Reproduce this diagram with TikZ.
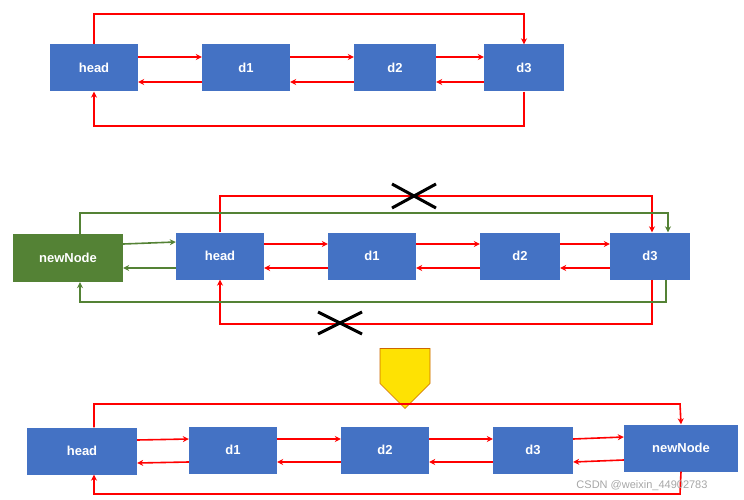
\documentclass[tikz,border=0pt]{standalone}
\usepackage{fontspec}
\setmainfont{Liberation Sans}
\usetikzlibrary{arrows.meta,shapes.arrows}
\definecolor{bx}{HTML}{4472C4}
\definecolor{gx}{HTML}{548235}
\definecolor{rx}{HTML}{FF0000}
\begin{document}
\begin{tikzpicture}[x=1pt,y=-1pt,
 box/.style={fill=bx,draw=none,text=white,font=\bfseries\fontsize{13}{13}\selectfont,minimum height=47pt,inner sep=0pt},
 r/.style={draw=rx,line width=1.6pt,-{Stealth[length=6pt,width=6pt]}},
 rl/.style={draw=rx,line width=1.6pt},
 g/.style={draw=gx,line width=1.6pt,-{Stealth[length=6pt,width=6pt]}},
 cross/.style={line width=3pt,black}]
\useasboundingbox (0,0) rectangle (744,500);
% row 1
\node[box,minimum width=88pt] (h1) at (94,68) {head};
\node[box,minimum width=88pt] (a1) at (246,68) {d1};
\node[box,minimum width=82pt] (b1) at (395,68) {d2};
\node[box,minimum width=80pt] (c1) at (524,68) {d3};
\foreach \u/\v in {h1/a1,a1/b1,b1/c1}{
 \draw[r] ([yshift=11pt]\u.east) -- ([yshift=11pt]\v.west);
 \draw[r] ([yshift=-14pt]\v.west) -- ([yshift=-14pt]\u.east);}
\coordinate (t1a) at (94,14); \coordinate (t1b) at (524,14);
\draw[r] (h1.north) -- (t1a) -- (t1b) -- (c1.north);
\coordinate (u1a) at (524,126); \coordinate (u1b) at (94,126);
\draw[r] (c1.south) -- (u1a) -- (u1b) -- (h1.south);
% row 2
\node[box,fill=gx,minimum width=110pt,minimum height=48pt] (n2) at (68,258) {newNode};
\node[box,minimum width=88pt] (h2) at (220,256) {head};
\node[box,minimum width=88pt] (a2) at (372,256) {d1};
\node[box,minimum width=80pt] (b2) at (520,256) {d2};
\node[box,minimum width=80pt] (c2) at (650,256) {d3};
\foreach \u/\v in {h2/a2,a2/b2,b2/c2}{
 \draw[r] ([yshift=12pt]\u.east) -- ([yshift=12pt]\v.west);
 \draw[r] ([yshift=-12pt]\v.west) -- ([yshift=-12pt]\u.east);}
\draw[g] ([yshift=14pt]n2.east) -- ([yshift=14pt,xshift=0pt]h2.west);
\draw[g] ([yshift=-12pt]h2.west) -- ([yshift=-10pt]n2.east);
\coordinate (t2a) at (220,196); \coordinate (t2b) at (652,196);
\draw[r] (h2.north) -- (t2a) -- (t2b) -- ([xshift=2pt]c2.north);
\coordinate (g2a) at (80,213); \coordinate (g2b) at (668,213);
\draw[g] ([xshift=12pt]n2.north) -- (g2a) -- (g2b) -- ([xshift=18pt]c2.north);
\coordinate (u2a) at (652,324); \coordinate (u2b) at (220,324);
\draw[r] ([xshift=2pt]c2.south) -- (u2a) -- (u2b) -- (h2.south);
\coordinate (v2a) at (666,302); \coordinate (v2b) at (80,302);
\draw[g] ([xshift=16pt]c2.south) -- (v2a) -- (v2b) -- ([xshift=12pt]n2.south);
\draw[cross] (392,184) -- (436,208) (392,208) -- (436,184);
\draw[cross] (318,312) -- (362,334) (318,334) -- (362,312);
% yellow arrow
\node[single arrow,fill=yellow!85!orange,draw=orange!80!black,line width=0.6pt,shape border rotate=270,minimum width=50pt,single arrow head extend=0pt,minimum height=60pt,inner sep=0pt,single arrow tip angle=90] (ya) at (405,366) {};
% row 3
\node[box,minimum width=110pt] (h3) at (82,451) {head};
\node[box,minimum width=88pt] (a3) at (233,450) {d1};
\node[box,minimum width=88pt] (b3) at (385,450) {d2};
\node[box,minimum width=80pt] (c3) at (533,450) {d3};
\node[box,minimum width=114pt] (n3) at (681,448) {newNode};
\foreach \u/\v in {h3/a3,a3/b3,b3/c3,c3/n3}{
 \draw[r] ([yshift=11pt]\u.east) -- ([yshift=11pt]\v.west);
 \draw[r] ([yshift=-12pt]\v.west) -- ([yshift=-12pt]\u.east);}
\coordinate (t3a) at (94,404); \coordinate (t3b) at (680,404);
\draw[r] ([xshift=12pt]h3.north) -- (t3a) -- (t3b) -- (n3.north);
\coordinate (u3a) at (680,494); \coordinate (u3b) at (94,494);
\draw[r] (n3.south) -- (u3a) -- (u3b) -- ([xshift=12pt]h3.south);
\node[text=black!35,font=\fontsize{11}{11}\selectfont,inner sep=0pt] (wm) at (642,486) {CSDN @weixin\_44902783};
\end{tikzpicture}
\end{document}
